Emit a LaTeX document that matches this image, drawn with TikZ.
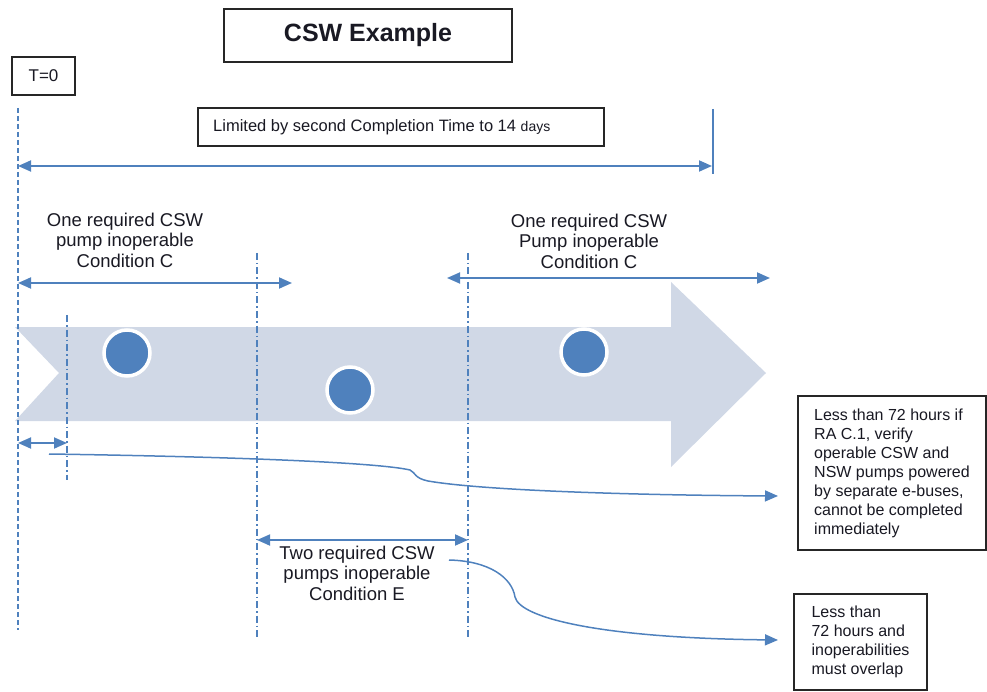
\documentclass[tikz,border=0pt]{standalone}
\usepackage{fontspec}
\setmainfont{Liberation Sans}
\usetikzlibrary{arrows.meta}
\definecolor{cblue}{RGB}{79,129,189}
\definecolor{cband}{RGB}{208,216,230}
\definecolor{ctext}{RGB}{25,25,35}
\begin{document}
\begin{tikzpicture}[x=1pt,y=-1pt,
  box/.style={draw=black!85,line width=1.5pt,fill=white,inner sep=0pt},
  darr/.style={cblue,line width=1.8pt,{Triangle[length=13pt,width=11pt]}-{Triangle[length=13pt,width=11pt]}},
  rarr/.style={cblue,line width=1.5pt,-{Triangle[length=13pt,width=11pt]}},
  dashv/.style={cblue,line width=1.4pt,dash pattern=on 5pt off 3pt},
  dotv/.style={cblue,line width=1.3pt,dash pattern=on 7pt off 3pt on 1.5pt off 3pt},
  lbl/.style={text=ctext,align=center,inner sep=0pt,font=\fontsize{18.5}{20.5}\selectfont},
  small/.style={text=ctext,align=left,font=\fontsize{16}{19}\selectfont},
  dot/.style={circle,fill=cblue,draw=white,line width=3.5pt,minimum size=46pt,inner sep=0pt}]
\useasboundingbox (0,0) rectangle (987,692);

% big background arrow
\fill[cband] (15,327) -- (671,327) -- (671,282) -- (766,373) -- (671,467)
  -- (671,421) -- (15,421) -- (59,373) -- cycle;

% title and boxes
\node[box,minimum width=288pt,minimum height=53pt,font=\fontsize{25}{30}\selectfont\bfseries,text=ctext] (title) at (368,35.5) {CSW Example};
\node[box,minimum width=63pt,minimum height=38pt,font=\fontsize{17}{20}\selectfont,text=ctext] (t0) at (43.5,76) {T=0};
\node[box,minimum width=406pt,minimum height=38pt] (limbox) at (401,127) {};
\node[anchor=west,inner sep=0pt,font=\fontsize{16.5}{20}\selectfont,text=ctext] (limtxt) at (213,127)
  {Limited by second Completion Time to 14 {\fontsize{14}{16}\selectfont days}};

% vertical time marks
\coordinate (v0t) at (18,108);  \coordinate (v0b) at (18,630);
\coordinate (v1t) at (67,315);  \coordinate (v1b) at (67,480);
\coordinate (v2t) at (257,253); \coordinate (v2b) at (257,640);
\coordinate (v3t) at (468,253); \coordinate (v3b) at (468,640);
\coordinate (endt) at (713,109); \coordinate (endb) at (713,174);
\draw[dashv] (v0t) -- (v0b);
\draw[dotv] (v1t) -- (v1b);
\draw[dotv] (v2t) -- (v2b);
\draw[dotv] (v3t) -- (v3b);
\draw[cblue,line width=2.6pt] (endt) -- (endb);

% span arrows
\coordinate (a0l) at (18,166);  \coordinate (a0r) at (712,166);
\coordinate (a1l) at (18,283);  \coordinate (a1r) at (292,283);
\coordinate (a2l) at (447,278); \coordinate (a2r) at (770,278);
\coordinate (a3l) at (18,443);  \coordinate (a3r) at (67,443);
\coordinate (a4l) at (257,540); \coordinate (a4r) at (468,540);
\draw[darr] (a0l) -- (a0r);
\draw[darr] (a1l) -- (a1r);
\draw[darr] (a2l) -- (a2r);
\draw[darr] (a3l) -- (a3r);
\draw[darr] (a4l) -- (a4r);

% labels
\node[lbl] (condC1) at (125,240) {One required CSW\\pump inoperable\\Condition C};
\node[lbl] (condC2) at (589,241) {One required CSW\\Pump inoperable\\Condition C};
\node[lbl] (condE) at (357,573) {Two required CSW\\pumps inoperable\\Condition E};

% notes
\node[box,minimum width=188pt,minimum height=154pt,small] (note1) at (892,473)
  {Less than 72 hours if\\RA C.1, verify\\operable CSW and\\NSW pumps powered\\by separate e-buses,\\cannot be completed\\immediately};
\node[box,minimum width=133pt,minimum height=96pt,small] (note2) at (860.5,642)
  {Less than\\72 hours and\\inoperabilities\\must overlap};

% curved leaders
\coordinate (c1s) at (49,454);
\coordinate (c1e) at (778,496);
\draw[rarr] (c1s) .. controls (250,457) and (380,463) .. (410,470)
  .. controls (416,473) and (414,478) .. (428,481)
  .. controls (480,490) and (620,495) .. (c1e);
\coordinate (c2s) at (449,560);
\coordinate (c2e) at (778,640);
\draw[rarr] (c2s) .. controls (490,561) and (512,578) .. (515,597)
  .. controls (520,618) and (600,638) .. (c2e);

% dots
\node[dot] (d1) at (127,353) {};
\node[dot] (d2) at (350,390) {};
\node[dot] (d3) at (584,352) {};
\end{tikzpicture}
\end{document}
